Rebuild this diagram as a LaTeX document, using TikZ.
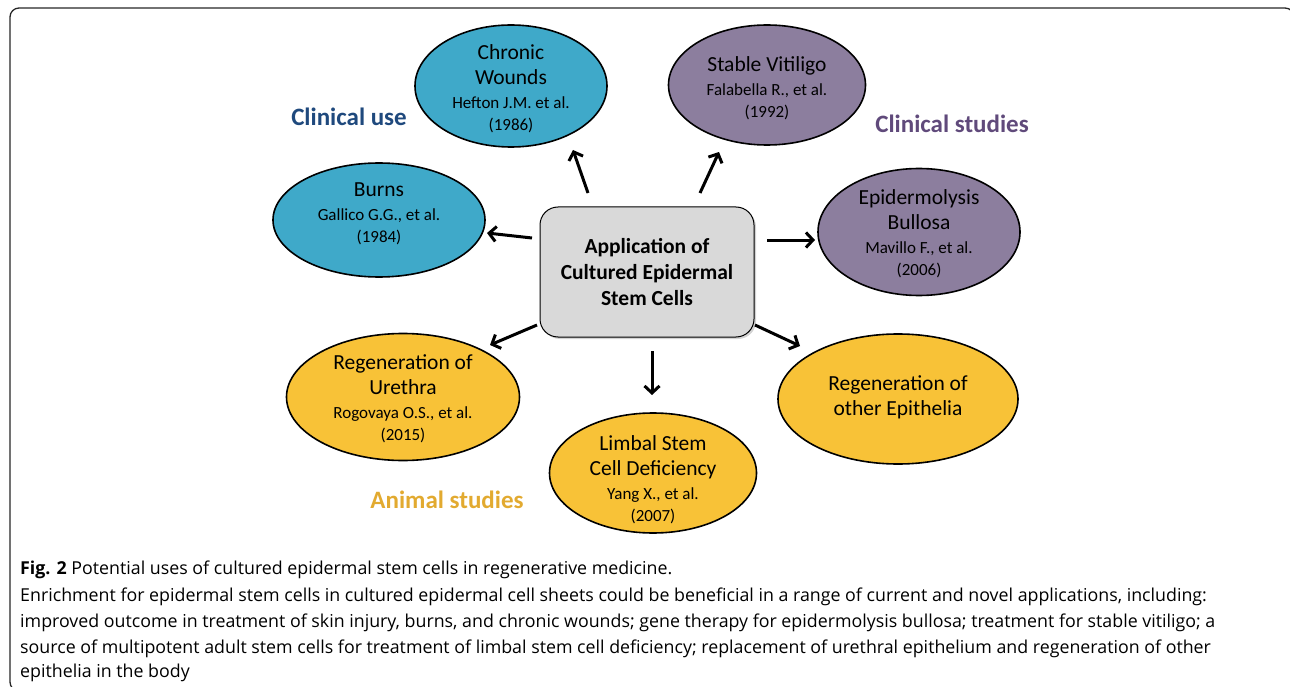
\documentclass[tikz,border=0pt]{standalone}
\usepackage{fontspec}
\setmainfont{Carlito}
\newfontfamily\capfont{Open Sans}
\usetikzlibrary{arrows.meta,shapes.geometric,shadows}
\definecolor{teal1}{HTML}{3FA9C9}
\definecolor{purp1}{HTML}{8C7E9E}
\definecolor{gold1}{HTML}{F8C237}
\definecolor{cuse}{HTML}{1F497D}
\definecolor{cstud}{HTML}{604A7B}
\definecolor{astud}{HTML}{E2AA30}
\definecolor{boxgray}{HTML}{D9D9D9}
\newcommand{\rf}{\fontsize{17}{20}\selectfont}
\begin{document}
\begin{tikzpicture}[x=1pt,y=-1pt,
  ell/.style={ellipse,draw=black,line width=1.6pt,inner sep=0pt},
  txt/.style={align=center,inner sep=0pt,font=\fontsize{21.5}{25}\selectfont},
  arr/.style={line width=3pt,-{Straight Barb[length=7pt,width=15pt]}},
  grp/.style={font=\fontsize{25}{28}\selectfont\bfseries,inner sep=0pt},
  captxt/.style={anchor=base west,inner sep=0pt,font=\capfont\fontsize{17.8}{20}\selectfont}]
\useasboundingbox (0,0) rectangle (1290,687);
\draw[line width=1.3pt,draw=black!85,rounded corners=9pt] (10,8) rectangle (1294,691);

% ellipses
\node[ell,fill=teal1,minimum width=192pt,minimum height=122pt] (cw) at (511,86) {};
\node[txt] (cwt) at (511,89) {Chronic\\Wounds\\[-1pt]{\rf Hefton J.M. et al.}\\[-3pt]{\rf (1986)}};
\node[ell,fill=purp1,minimum width=197pt,minimum height=120pt] (sv) at (767,85) {};
\node[txt] (svt) at (767,88) {Stable Vitiligo\\[-1pt]{\rf Falabella R., et al.}\\[-3pt]{\rf (1992)}};
\node[ell,fill=teal1,minimum width=212pt,minimum height=114pt] (bu) at (379,220) {};
\node[txt] (but) at (379,214) {Burns\\[-1pt]{\rf Gallico G.G., et al.}\\[-3pt]{\rf (1984)}};
\node[ell,fill=purp1,minimum width=202pt,minimum height=127pt] (eb) at (919,232) {};
\node[txt] (ebt) at (919,234) {Epidermolysis\\Bullosa\\[-1pt]{\rf Mavillo F., et al.}\\[-3pt]{\rf (2006)}};
\node[ell,fill=gold1,minimum width=233pt,minimum height=127pt] (ur) at (403,397) {};
\node[txt] (urt) at (403,399) {Regeneration of\\Urethra\\[-1pt]{\rf Rogovaya O.S., et al.}\\[-3pt]{\rf (2015)}};
\node[ell,fill=gold1,minimum width=240pt,minimum height=130pt] (oe) at (898,399) {};
\node[txt] (oet) at (898,397) {Regeneration of\\other Epithelia};
\node[ell,fill=gold1,minimum width=207pt,minimum height=120pt] (lb) at (653,473) {};
\node[txt] (lbt) at (653,480) {Limbal Stem\\Cell Deficiency\\[-1pt]{\rf Yang X., et al.}\\[-3pt]{\rf (2007)}};

% central box
\node[draw=black,line width=1pt,fill=boxgray,rounded corners=18pt,minimum width=214pt,minimum height=130pt,
  drop shadow={shadow xshift=2pt,shadow yshift=-2pt,opacity=0.35},align=center,
  font=\fontsize{21.5}{26}\selectfont\bfseries] (box) at (647,272) {Application of\\Cultured Epidermal\\Stem Cells};

% arrows
\coordinate (a1s) at (588,193); \coordinate (a1e) at (573,150);
\coordinate (a2s) at (700,193); \coordinate (a2e) at (719,152);
\coordinate (a3s) at (532,238); \coordinate (a3e) at (487,233);
\coordinate (a4s) at (767,240); \coordinate (a4e) at (815,240);
\coordinate (a5s) at (537,325); \coordinate (a5e) at (490,345);
\coordinate (a6s) at (755,325); \coordinate (a6e) at (800,346);
\coordinate (a7s) at (652,351); \coordinate (a7e) at (652,395);
\foreach \i in {1,...,7} {\draw[arr] (a\i s) -- (a\i e);}

% group labels
\node[grp,text=cuse] (l1) at (349,117) {Clinical use};
\node[grp,text=cstud] (l2) at (952,124) {Clinical studies};
\node[grp,text=astud] (l3) at (447,500) {Animal studies};

% caption
\node[captxt] (c1) at (20,574) {\textbf{Fig. 2} Potential uses of cultured epidermal stem cells in regenerative medicine.};
\node[captxt] (c2) at (20,601) {Enrichment for epidermal stem cells in cultured epidermal cell sheets could be beneficial in a range of current and novel applications, including:};
\node[captxt] (c3) at (20,627) {improved outcome in treatment of skin injury, burns, and chronic wounds; gene therapy for epidermolysis bullosa; treatment for stable vitiligo; a};
\node[captxt] (c4) at (20,653) {source of multipotent adult stem cells for treatment of limbal stem cell deficiency; replacement of urethral epithelium and regeneration of other};
\node[captxt] (c5) at (20,677) {epithelia in the body};
\end{tikzpicture}
\end{document}
